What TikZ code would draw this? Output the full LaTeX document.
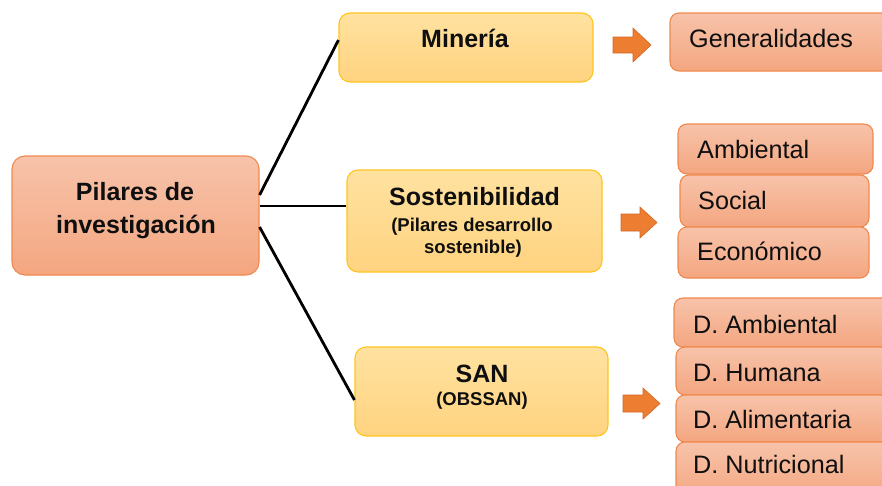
\documentclass[tikz,border=0pt]{standalone}
\usepackage{fontspec}
\setmainfont{Liberation Sans}
\definecolor{orTop}{RGB}{247,195,170}
\definecolor{orBot}{RGB}{244,166,128}
\definecolor{orLine}{RGB}{239,138,78}
\definecolor{yeTop}{RGB}{255,226,160}
\definecolor{yeBot}{RGB}{255,211,128}
\definecolor{yeLine}{RGB}{255,196,30}
\definecolor{arrC}{RGB}{237,125,49}
\definecolor{arrL}{RGB}{210,105,40}
\definecolor{txt}{RGB}{15,15,15}
\tikzset{
  obox/.style={draw=orLine, line width=1.1pt, top color=orTop, bottom color=orBot,
    rounded corners=9pt, inner sep=0pt},
  mainbox/.style={obox, rounded corners=13pt},
  ybox/.style={draw=yeLine, line width=1.1pt, top color=yeTop, bottom color=yeBot,
    rounded corners=11pt, inner sep=0pt},
  title/.style={anchor=base, inner sep=0pt, text=txt, font=\fontsize{25}{29}\selectfont\bfseries},
  small/.style={anchor=base, inner sep=0pt, text=txt, font=\fontsize{18.5}{22}\selectfont\bfseries},
  item/.style={anchor=base west, inner sep=0pt, text=txt, font=\fontsize{25.2}{29}\selectfont},
  conn/.style={line width=2.8pt, black},
  bigarrow/.style={fill=arrC, draw=arrL, line width=0.6pt, line join=miter}
}
\begin{document}
\begin{tikzpicture}[x=1pt,y=-1pt]
\useasboundingbox (0,0) rectangle (882,485);
\clip (0,0) rectangle (882,485);
% boxes
\node[mainbox, minimum width=247pt, minimum height=119pt] (main) at (135.5,215.5) {};
\node[ybox, minimum width=254pt, minimum height=69pt] (min) at (466,47.5) {};
\node[ybox, minimum width=255pt, minimum height=102pt] (sos) at (474.5,221) {};
\node[ybox, minimum width=253pt, minimum height=89pt] (san) at (481.5,391.5) {};
% connectors
\draw[conn] (main.east |- 0,195) -- (min.west |- 0,40);
\draw[conn] (main.east |- 0,206) -- (sos.west |- 0,206);
\draw[conn] (main.east |- 0,227) -- (san.west |- 0,400);
% texts in left / middle boxes
\node[title] (t1) at (135,200) {Pilares de};
\node[title] (t2) at (136,233) {investigación};
\node[title] (t3) at (465,47) {Minería};
\node[title] (t4) at (474.5,205) {Sostenibilidad};
\node[small] (t5) at (472,231) {(Pilares desarrollo};
\node[small] (t6) at (473,253) {sostenible)};
\node[title] (t7) at (482,382) {SAN};
\node[small] (t8) at (482,405) {(OBSSAN)};
% block arrows
\draw[bigarrow] (613,37) -- (633,37) -- (633,28) -- (651,45) -- (633,62) -- (633,53) -- (613,53) -- cycle;
\draw[bigarrow] (621,214) -- (640,214) -- (640,207) -- (657,222.5) -- (640,238) -- (640,231) -- (621,231) -- cycle;
\draw[bigarrow] (623,395) -- (643,395) -- (643,388) -- (660,403.5) -- (643,419) -- (643,412) -- (623,412) -- cycle;
% right boxes
\node[obox, minimum width=230pt, minimum height=58pt] (gen) at (785,42) {};
\node[item] (g1) at (689,47) {Generalidades};
\node[obox, minimum width=195pt, minimum height=50pt] (amb) at (775.5,149) {};
\node[item] (a1) at (697,158) {Ambiental};
\node[obox, minimum width=189pt, minimum height=52pt] (soc) at (774.5,201) {};
\node[item] (s1) at (698,209) {Social};
\node[obox, minimum width=191pt, minimum height=51pt] (eco) at (773.5,252.5) {};
\node[item] (e1) at (697,260) {Económico};
\node[obox, minimum width=226pt, minimum height=49pt] (da) at (787,322.5) {};
\node[item] (da1) at (693,333) {D. Ambiental};
\node[obox, minimum width=224pt, minimum height=48pt] (dh) at (788,371) {};
\node[item] (dh1) at (693,381) {D. Humana};
\node[obox, minimum width=224pt, minimum height=47pt] (dal) at (788,418.5) {};
\node[item] (dal1) at (693,428) {D. Alimentaria};
\node[obox, minimum width=224pt, minimum height=58pt] (dn) at (788,471) {};
\node[item] (dn1) at (693,473) {D. Nutricional};
\end{tikzpicture}
\end{document}
